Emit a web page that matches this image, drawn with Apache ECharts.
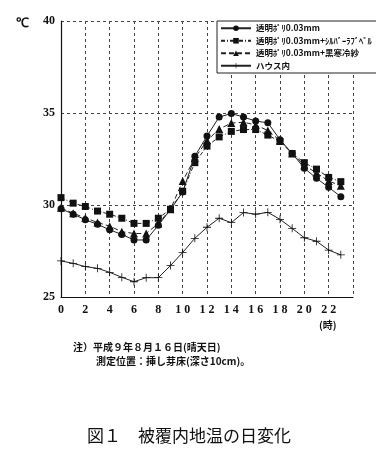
<!DOCTYPE html>
<html>
<head>
<meta charset="utf-8">
<script src="https://cdn.jsdelivr.net/npm/echarts@6/dist/echarts.min.js"></script>
<style>
    html, body { margin: 0; padding: 0; background: #fff; }
    #chart { width: 376px; height: 452px; }
</style>
</head>
<body>
<div id="chart"></div>
<script>
// hours of the day (x) and soil temperatures (℃)
const hours = [0, 1, 2, 3, 4, 5, 6, 7, 8, 9, 10, 11, 12, 13, 14, 15, 16, 17, 18, 19, 20, 21, 22, 23]
const xTicks = [0, 2, 4, 6, 8, 10, 12, 14, 16, 18, 20, 22]
const yTicks = [25, 30, 35, 40]
const names = ['透明ﾎﾟﾘ0.03mm', '透明ﾎﾟﾘ0.03mm+ｼﾙﾊﾞｰﾗﾌﾞﾍﾞﾙ', '透明ﾎﾟﾘ0.03mm+黒寒冷紗', 'ハウス内']
const clear = [29.8, 29.5, 29.2, 28.95, 28.65, 28.4, 28.1, 28.1, 28.9, 29.75, 30.7, 32.65, 33.75, 34.78, 34.97, 34.78, 34.56, 34.47, 33.55, 32.8, 32.0, 31.45, 30.96, 30.45]
const silver = [30.4, 30.1, 29.92, 29.67, 29.5, 29.28, 29.0, 29.0, 29.28, 29.77, 30.75, 32.3, 33.2, 33.7, 34.0, 34.1, 34.1, 33.8, 33.45, 32.8, 32.3, 31.95, 31.5, 31.27]
const blackNet = [29.85, 29.55, 29.3, 29.05, 28.85, 28.55, 28.45, 28.45, 29.0, 29.77, 31.3, 32.55, 33.5, 34.13, 34.45, 34.5, 34.35, 34.05, 33.5, 32.8, 32.15, 31.75, 31.3, 31.05]
const house = [26.96, 26.83, 26.65, 26.56, 26.34, 26.07, 25.83, 26.05, 26.05, 26.71, 27.42, 28.19, 28.79, 29.28, 29.04, 29.59, 29.5, 29.6, 29.22, 28.73, 28.22, 28.03, 27.55, 27.29]

const font = '"Liberation Serif", serif'
const jp = '"Noto Sans CJK JP", sans-serif'
const plus = 'path://M4.5,0H5.5V4.5H10V5.5H5.5V10H4.5V5.5H0V4.5H4.5Z'
const pairs = vals => hours.map((h, i) => [h, vals[i]])

const line = (name, vals, symbol, size, type, z) => ({
    name,
    type: 'line',
    data: pairs(vals),
    symbol,
    symbolSize: size,
    z,
    itemStyle: { color: '#111' },
    lineStyle: { color: '#222', width: 1, type },
    emphasis: { disabled: true }
})

const chart = echarts.init(document.getElementById('chart'))
chart.setOption({
    animation: false,
    backgroundColor: '#fff',
    grid: { left: 61, right: 23, top: 21, bottom: 155 },
    legend: {
        orient: 'vertical',
        left: 217,
        top: 21,
        padding: [3, 8, 3, 3],
        itemWidth: 30,
        itemHeight: 7,
        itemGap: 4,
        backgroundColor: '#fff',
        borderColor: '#222',
        borderWidth: 1,
        borderRadius: 0,
        textStyle: { fontFamily: jp, fontSize: 8.5, fontWeight: 'bold', color: '#111' },
        data: names
    },
    xAxis: {
        type: 'value',
        min: 0,
        max: 24,
        interval: 2,
        axisLine: { lineStyle: { color: '#111', width: 1.2 } },
        axisTick: { show: false },
        axisLabel: {
            margin: 7,
            color: '#111',
            fontFamily: font,
            fontWeight: 'bold',
            fontSize: 12,
            formatter: v => xTicks.includes(v) ? String(v).split('').join(' ') : ''
        },
        splitLine: { lineStyle: { color: '#444', width: 1, type: [3, 3] } }
    },
    yAxis: {
        type: 'value',
        min: 25,
        max: 40,
        interval: 5,
        axisLine: { show: true, lineStyle: { color: '#111', width: 1.2 } },
        axisTick: { show: false },
        axisLabel: {
            margin: 6,
            color: '#111',
            fontFamily: font,
            fontWeight: 'bold',
            fontSize: 12,
            formatter: v => yTicks.includes(v) ? String(v) : ''
        },
        splitLine: { lineStyle: { color: '#444', width: 1, type: [3, 3] } }
    },
    series: [
        line(names[0], clear, 'circle', 7, 'solid', 5),
        line(names[1], silver, 'rect', 7, [4, 2, 1, 2], 4),
        line(names[2], blackNet, 'triangle', 8, [5, 3], 3),
        line(names[3], house, plus, 8, 'solid', 2)
    ],
    graphic: [
        { type: 'text', left: 16, top: 17, style: { text: '℃', font: 'bold 13px ' + font, fill: '#111' } },
        { type: 'text', left: 319, top: 320, style: { text: '(時)', font: 'bold 10px ' + jp, fill: '#111' } },
        { type: 'text', left: 73, top: 342, style: { text: '注）平成９年８月１６日(晴天日)', font: 'bold 10px ' + jp, fill: '#111' } },
        { type: 'text', left: 96, top: 356, style: { text: '測定位置：挿し芽床(深さ10cm)。', font: 'bold 10px ' + jp, fill: '#111' } },
        { type: 'text', left: 87, top: 427, style: { text: '図１　被覆内地温の日変化', font: '17px ' + jp, fill: '#111' } }
    ]
})
</script>
</body>
</html>
